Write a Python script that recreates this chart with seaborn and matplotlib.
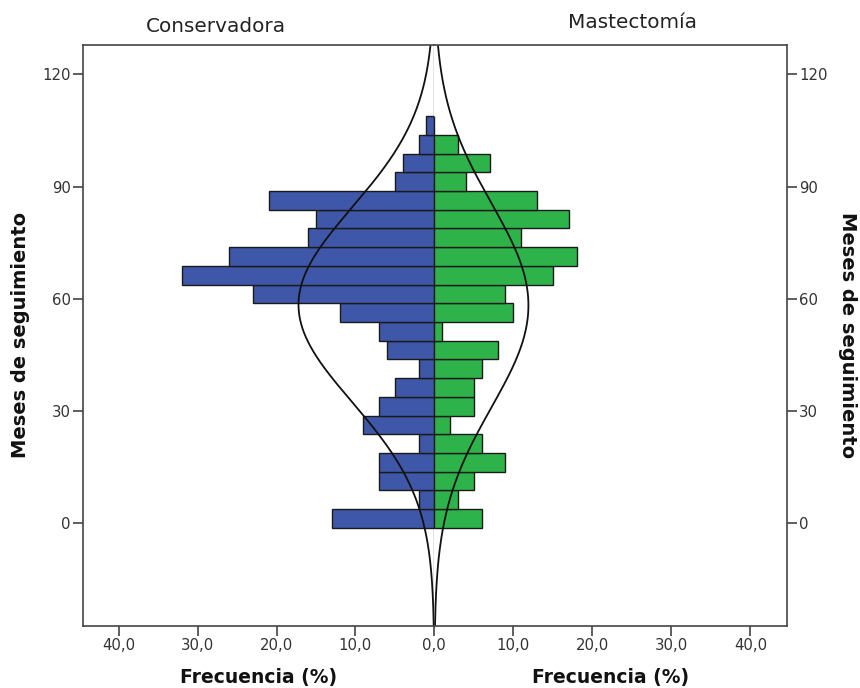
import numpy as np
import pandas as pd
import matplotlib
matplotlib.use("Agg")
import matplotlib.pyplot as plt
from matplotlib.ticker import FuncFormatter
import seaborn as sns

# ---------------- data ----------------
group_titles = ["Conservadora", "Mastectomía"]
bin_start = -1.2          # lower edge of first bin (months)
bin_width = 5.0           # months per bin
# frequencies per bin, from the lowest bin (around 0 months) up to the highest
conservadora = [13, 2, 7, 7, 2, 9, 7, 5, 2, 6, 7, 12, 23, 32, 26, 16, 15, 21, 5, 4, 2, 1]
mastectomia = [6, 3, 5, 9, 6, 2, 5, 5, 6, 8, 1, 10, 9, 15, 18, 11, 17, 13, 4, 7, 3, 0]
x_ticks_left = [0, 10, 20, 30, 40]
x_ticks_right = [10, 20, 30, 40]
y_ticks = [0, 30, 60, 90, 120]
x_label = "Frecuencia (%)"
y_label = "Meses de seguimiento"

blue = "#3F57A8"
green = "#2DB34A"
edge = "#1a1a1a"
txt = "#222222"

sns.set_theme(style="white")
plt.rcParams["font.family"] = ["DejaVu Sans"]

n_bins = len(conservadora)
edges = [float(bin_start + bin_width * i) for i in range(n_bins + 1)]
centers = [(edges[i] + edges[i + 1]) / 2 for i in range(n_bins)]
df = pd.DataFrame({"meses": centers,
                   "Conservadora": conservadora,
                   "Mastectomía": mastectomia})

fig = plt.figure(figsize=(8.6, 6.88), dpi=100)
ax_l = fig.add_axes([83.3 / 860, 1 - 626 / 688, 351 / 860, 581 / 688])
ax_r = fig.add_axes([434.3 / 860, 1 - 626 / 688, 352.4 / 860, 581 / 688], sharey=ax_l)

ylim = (-27.4, 127.8)
yy = np.linspace(ylim[0], ylim[1], 600)

for ax, col, color in [(ax_l, "Conservadora", blue), (ax_r, "Mastectomía", green)]:
    sns.histplot(data=df, y="meses", weights=col, bins=edges, ax=ax,
                 color=color, alpha=1, edgecolor=edge, linewidth=1.0)
    w = df[col].to_numpy(dtype=float)
    n = w.sum()
    c = df["meses"].to_numpy()
    mu = np.sum(w * c) / n
    sd = np.sqrt(np.sum(w * (c - mu) ** 2) / (n - 1))
    pdf = np.exp(-0.5 * ((yy - mu) / sd) ** 2) / (sd * np.sqrt(2 * np.pi))
    ax.plot(n * bin_width * pdf, yy, color="#111111", lw=1.3)
    ax.set_xlabel("")
    ax.set_ylabel("")

fmt = FuncFormatter(lambda v, p: f"{v:.1f}".replace(".", ","))

ax_l.set_xlim(44.5, 0)
ax_r.set_xlim(0, 44.6)
ax_l.set_ylim(*ylim)
ax_l.set_xticks(x_ticks_left)
ax_r.set_xticks(x_ticks_right)
ax_l.xaxis.set_major_formatter(fmt)
ax_r.xaxis.set_major_formatter(fmt)
ax_l.set_yticks(y_ticks)

ax_r.yaxis.tick_right()
ax_r.tick_params(axis="y", labelright=True, labelleft=False)

for ax in (ax_l, ax_r):
    ax.tick_params(axis="both", direction="out", length=7, width=1.1,
                   color="#333333", labelsize=10.7, labelcolor="#333333", pad=2)
    ax.tick_params(axis="x", bottom=True)
    ax.tick_params(axis="y", left=(ax is ax_l), right=(ax is ax_r))
    for s in ax.spines.values():
        s.set_color("#444444")
        s.set_linewidth(1.2)

ax_l.spines["right"].set_linewidth(0.9)
ax_l.spines["right"].set_color("#222222")
ax_r.spines["left"].set_visible(False)

fig.text(216 / 860, 1 - 26 / 688, group_titles[0], ha="center", va="center",
         fontsize=14.4, color=txt)
fig.text(632 / 860, 1 - 23 / 688, group_titles[1], ha="center", va="center",
         fontsize=14.4, color=txt)
fig.text(259 / 860, 1 - 678 / 688, x_label, ha="center", va="center",
         fontsize=13.5, fontweight="bold", color="#111111")
fig.text(611 / 860, 1 - 678 / 688, x_label, ha="center", va="center",
         fontsize=13.5, fontweight="bold", color="#111111")
fig.text(21 / 860, 1 - 335 / 688, y_label, ha="center", va="center",
         rotation=90, fontsize=14, fontweight="bold", color="#111111")
fig.text(847 / 860, 1 - 335 / 688, y_label, ha="center", va="center",
         rotation=-90, fontsize=14, fontweight="bold", color="#111111")

fig.savefig("out.png", dpi=100, facecolor="white")
